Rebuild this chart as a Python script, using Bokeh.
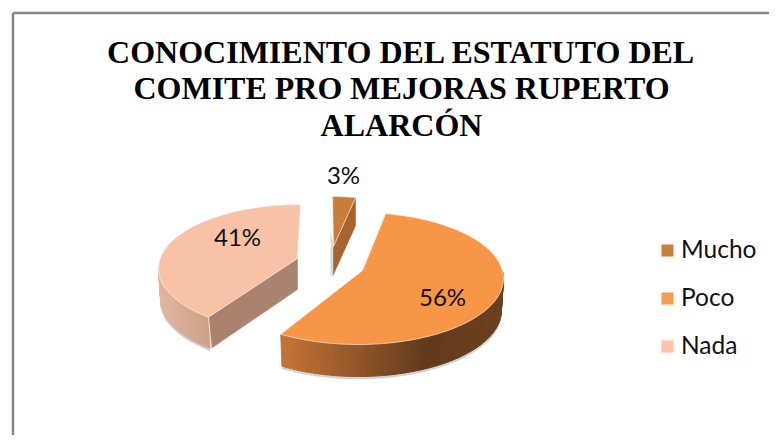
import numpy as np
from bokeh.plotting import figure
from bokeh.embed import file_html
from bokeh.resources import INLINE
from bokeh.core.properties import value
from bokeh.models import Range1d

title_lines = ["CONOCIMIENTO DEL ESTATUTO DEL", "COMITE PRO MEJORAS RUPERTO", "ALARCÓN"]
categories = ["Mucho", "Poco", "Nada"]
percentages = [3, 56, 41]
top_colors = ["#C87D3C", "#F79646", "#F8C2A6"]
face_colors = ["#A5652D", None, "#A98370"]
legend_colors = ["#C97F3E", "#F79A4C", "#FBC3AB"]

W, H = 769, 435
p = figure(width=W, height=H, output_backend="svg", toolbar_location=None,
           x_range=Range1d(0, W), y_range=Range1d(H, 0),
           min_border=0, outline_line_color=None)
p.axis.visible = False
p.grid.visible = False

GEOM = {
    "Mucho": dict(apex=(333, 246), c=(332, 260), rx=123, ry=64, d=28, skew=0),
    "Poco":  dict(apex=(362, 270), c=(358, 278), rx=145, ry=66, d=32, skew=0),
    "Nada":  dict(apex=(297, 258), c=(300, 268), rx=142, ry=64, d=31, skew=8),
}

p.line([12.5, 12.5], [443, 12.5], line_color="#868686", line_width=2.5)
p.line([12.5, 777], [12.5, 12.5], line_color="#868686", line_width=2.5)

def rim(g, th, lower=False):
    th = np.radians(th)
    k = 0.985 if lower else 1.0
    return (g["c"][0] + k * g["rx"] * np.sin(th),
            g["c"][1] - g["ry"] * np.cos(th) + (g["d"] if lower else 0))

def lerp(a, b, t):
    return tuple(int(round(a[i] + (b[i] - a[i]) * t)) for i in range(3))

def hexc(c):
    return "#%02X%02X%02X" % c

total = sum(percentages)
edges = np.cumsum([0] + percentages) / total * 360.0
ranges = {c: (edges[i], edges[i + 1]) for i, c in enumerate(categories)}

def side_wall(name, t0, t1, shade, n=70):
    g = GEOM[name]
    ts = np.linspace(t0, t1, n + 1)
    xsh, ysh, xs, ys, cs = [], [], [], [], []
    for a, b in zip(ts[:-1], ts[1:]):
        xa, ya = rim(g, a); xb, yb = rim(g, b)
        xc, yc = rim(g, b, True); xd, yd = rim(g, a, True)
        xs.append([xa, xb, xc, xd]); ys.append([ya, yb, yc, yd])
        xsh.append([xd, xc, xc, xd]); ysh.append([yd, yc, yc + 2.5, yd + 2.5])
        cs.append(hexc(shade((xa + xb) / 2)))
    p.patches(xsh, ysh, fill_color="#BDBDBD", line_color="#BDBDBD", line_width=0.5, fill_alpha=0.6, line_alpha=0.6)
    p.patches(xs, ys, fill_color=cs, line_color=cs, line_width=1)

def poco_shade(x):
    if x < 425:
        return lerp((198, 116, 54), (98, 58, 28), (x - 280) / 145)
    return lerp((98, 58, 28), (108, 64, 30), (x - 425) / 78)

def nada_shade(x):
    return lerp((226, 182, 158), (204, 158, 134), (x - 158) / 54)

po0, po1 = ranges["Poco"]
na0, na1 = ranges["Nada"]
side_wall("Poco", 84, po1, poco_shade)
side_wall("Nada", na0 + GEOM["Nada"]["skew"], 272, nada_shade, n=40)

def cut_face(name, th, color):
    g = GEOM[name]
    ax, ay = g["apex"]
    rx_, ry_ = rim(g, th)
    d = g["d"]
    if name == "Mucho":
        p.patch([ax - 3, ax - 3, ax, ax + 1], [ay - 15, ay + d + 1, ay + d + 2, ay], fill_color="#C8C8C8", line_color=None, fill_alpha=0.7)
    p.patch([rx_, ax, ax, rx_ + (3 if name == "Nada" else 0)], [ry_, ay, ay + d, ry_ + d],
            fill_color=color, line_color=color, line_width=0.5)

cut_face("Nada", na0 + GEOM["Nada"]["skew"], face_colors[2])
cut_face("Mucho", ranges["Mucho"][1], face_colors[0])

for i, name in enumerate(categories):
    g = GEOM[name]
    a0, a1 = ranges[name]
    a0 = a0 + g["skew"]
    ts = np.linspace(a0, a1, 120)
    xr, yr = rim(g, ts)
    xs = [g["apex"][0]] + list(xr)
    ys = [g["apex"][1]] + list(yr)
    p.patch(xs, ys, fill_color=top_colors[i], line_color="#FFF3EA", line_width=0.8, line_alpha=0.8)

gn = GEOM["Nada"]
x0, y0 = rim(gn, na0 + gn["skew"])
p.line([x0, x0 + 3], [y0, y0 + gn["d"]], line_color="#F1E3DA", line_width=1)

label_pos = {"Mucho": (343, 174), "Poco": (442, 296), "Nada": (237, 236)}
for name, pct in zip(categories, percentages):
    lx, ly = label_pos[name]
    p.text([lx], [ly], text=[f"{pct}%"], text_font=value("Lato"), text_font_size="24px",
           text_color="#111111", text_align="center", text_baseline="middle")

for ty, line in zip([51, 87, 124], title_lines):
    p.text([401], [ty], text=[line], text_font=value("Liberation Serif"), text_font_size="32px",
           text_font_style="bold", text_color="#000000", text_align="center", text_baseline="middle")

for ly, name, col in zip([250, 298, 346], categories, legend_colors):
    p.rect([667], [ly], width=17, height=17, fill_color="#FAFAFA", line_color=None)
    p.rect([667], [ly], width=12, height=12, fill_color=col, line_color=None)
    p.text([680.5], [ly - 2], text=[name], text_font=value("Lato"), text_font_size="24.5px",
           text_color="#111111", text_align="left", text_baseline="middle")

open("out.html", "w").write(file_html(p, INLINE))
